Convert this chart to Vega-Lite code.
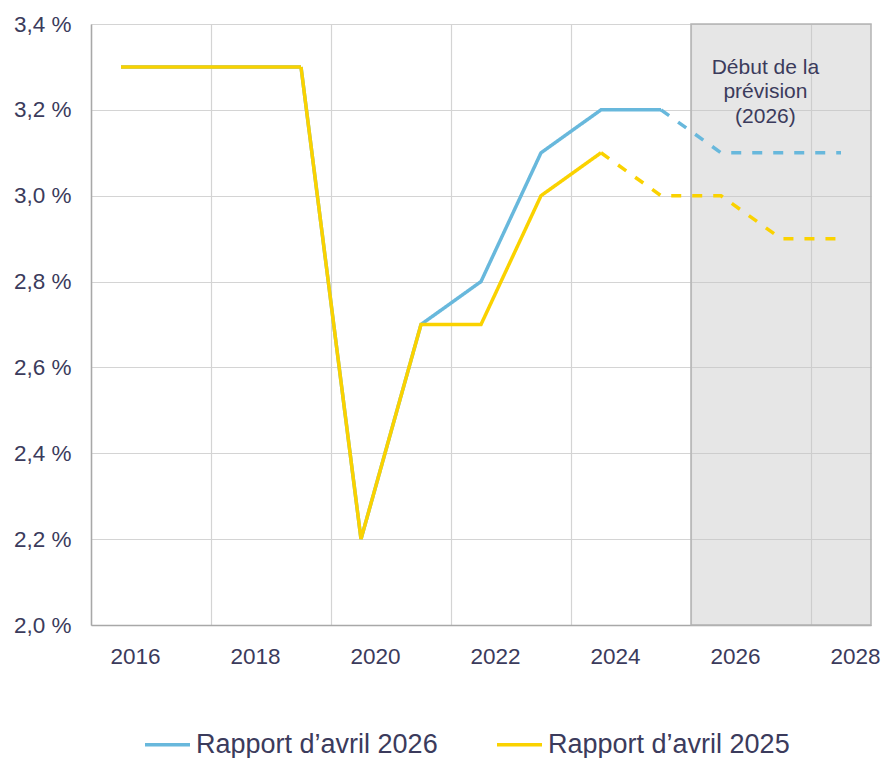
{
  "$schema": "https://vega.github.io/schema/vega-lite/v6.json",
  "width": 780,
  "height": 601,
  "autosize": {"type": "none"},
  "padding": {"left": 91, "top": 24, "right": 11, "bottom": 133},
  "background": "white",
  "config": {
    "view": {"stroke": null},
    "font": "Liberation Sans",
    "axis": {"labelFont": "Liberation Sans", "labelColor": "#3b3b5c", "labelFontSize": 22.5}
  },
  "layer": [
    {
      "data": {"values": [{"start": 2025.5, "end": 2028.5, "low": 2.0, "high": 3.4}]},
      "mark": {"type": "rect", "fill": "#c4c4c4", "fillOpacity": 0.42, "stroke": "#b4b4b4", "strokeWidth": 1.5},
      "encoding": {
        "x": {"field": "start", "type": "quantitative"},
        "x2": {"field": "end"},
        "y": {"field": "low", "type": "quantitative"},
        "y2": {"field": "high"}
      }
    },
    {
      "data": {
        "values": [
          {"year": 2016, "value": 3.3, "serie": "Rapport d’avril 2026", "part": "solid"},
          {"year": 2017, "value": 3.3, "serie": "Rapport d’avril 2026", "part": "solid"},
          {"year": 2018, "value": 3.3, "serie": "Rapport d’avril 2026", "part": "solid"},
          {"year": 2019, "value": 3.3, "serie": "Rapport d’avril 2026", "part": "solid"},
          {"year": 2020, "value": 2.2, "serie": "Rapport d’avril 2026", "part": "solid"},
          {"year": 2021, "value": 2.7, "serie": "Rapport d’avril 2026", "part": "solid"},
          {"year": 2022, "value": 2.8, "serie": "Rapport d’avril 2026", "part": "solid"},
          {"year": 2023, "value": 3.1, "serie": "Rapport d’avril 2026", "part": "solid"},
          {"year": 2024, "value": 3.2, "serie": "Rapport d’avril 2026", "part": "solid"},
          {"year": 2025, "value": 3.2, "serie": "Rapport d’avril 2026", "part": "solid"},
          {"year": 2025, "value": 3.2, "serie": "Rapport d’avril 2026", "part": "dash"},
          {"year": 2026, "value": 3.1, "serie": "Rapport d’avril 2026", "part": "dash"},
          {"year": 2027, "value": 3.1, "serie": "Rapport d’avril 2026", "part": "dash"},
          {"year": 2028, "value": 3.1, "serie": "Rapport d’avril 2026", "part": "dash"}
        ]
      },
      "mark": {"type": "line", "strokeWidth": 3.5},
      "encoding": {
        "x": {
          "field": "year", "type": "quantitative",
          "scale": {"domain": [2015.5, 2028.5], "nice": false, "zero": false},
          "axis": {
            "title": null,
            "values": [2015.5, 2017.5, 2019.5, 2021.5, 2023.5, 2025.5, 2027.5],
            "labelExpr": "format(datum.value + 0.5, 'd')",
            "labelOffset": 44,
            "labelFlush": false,
            "labelOverlap": false,
            "labelPadding": 20,
            "ticks": false,
            "grid": true,
            "gridColor": "#d4d4d4",
            "gridWidth": 1.2,
            "domainColor": "#a8a8a8",
            "domainWidth": 1.5
          }
        },
        "y": {
          "field": "value", "type": "quantitative",
          "scale": {"domain": [2.0, 3.4], "nice": false, "zero": false},
          "axis": {
            "title": null,
            "values": [2.0, 2.2, 2.4, 2.6, 2.8, 3.0, 3.2, 3.4],
            "labelExpr": "replace(format(datum.value, '.1f'), '.', ',') + ' %'",
            "labelPadding": 20,
            "labelFlush": false,
            "labelOverlap": false,
            "ticks": false,
            "grid": true,
            "gridColor": "#d4d4d4",
            "gridWidth": 1.2,
            "domainColor": "#a8a8a8",
            "domainWidth": 1.5
          }
        },
        "color": {
          "field": "serie", "type": "nominal",
          "scale": {"domain": ["Rapport d’avril 2026", "Rapport d’avril 2025"], "range": ["#68b8dc", "#fad200"]},
          "legend": {
            "title": null,
            "orient": "none",
            "legendX": 52,
            "legendY": 696,
            "direction": "horizontal",
            "symbolType": "stroke",
            "symbolStrokeWidth": 3.5,
            "symbolSize": 2025,
            "labelFontSize": 27,
            "labelFont": "Liberation Sans",
            "labelColor": "#3b3b5c",
            "labelLimit": 400,
            "columnPadding": 52
          }
        },
        "strokeDash": {
          "field": "part", "type": "nominal",
          "scale": {"domain": ["solid", "dash"], "range": [[1, 0], [10, 11]]},
          "legend": null
        }
      }
    },
    {
      "data": {
        "values": [
          {"year": 2016, "value": 3.3, "serie": "Rapport d’avril 2025", "part": "solid"},
          {"year": 2017, "value": 3.3, "serie": "Rapport d’avril 2025", "part": "solid"},
          {"year": 2018, "value": 3.3, "serie": "Rapport d’avril 2025", "part": "solid"},
          {"year": 2019, "value": 3.3, "serie": "Rapport d’avril 2025", "part": "solid"},
          {"year": 2020, "value": 2.2, "serie": "Rapport d’avril 2025", "part": "solid"},
          {"year": 2021, "value": 2.7, "serie": "Rapport d’avril 2025", "part": "solid"},
          {"year": 2022, "value": 2.7, "serie": "Rapport d’avril 2025", "part": "solid"},
          {"year": 2023, "value": 3.0, "serie": "Rapport d’avril 2025", "part": "solid"},
          {"year": 2024, "value": 3.1, "serie": "Rapport d’avril 2025", "part": "solid"},
          {"year": 2024, "value": 3.1, "serie": "Rapport d’avril 2025", "part": "dash"},
          {"year": 2025, "value": 3.0, "serie": "Rapport d’avril 2025", "part": "dash"},
          {"year": 2026, "value": 3.0, "serie": "Rapport d’avril 2025", "part": "dash"},
          {"year": 2027, "value": 2.9, "serie": "Rapport d’avril 2025", "part": "dash"},
          {"year": 2028, "value": 2.9, "serie": "Rapport d’avril 2025", "part": "dash"}
        ]
      },
      "mark": {"type": "line", "strokeWidth": 3.5},
      "encoding": {
        "x": {"field": "year", "type": "quantitative"},
        "y": {"field": "value", "type": "quantitative"},
        "color": {"field": "serie", "type": "nominal"},
        "strokeDash": {"field": "part", "type": "nominal", "legend": null}
      }
    },
    {
      "data": {"values": [{"x": 2026.74, "y": 3.3, "label": ["Début de la", "prévision", "(2026)"]}]},
      "mark": {"type": "text", "fontSize": 21, "lineHeight": 24.5, "fill": "#3b3b5c", "font": "Liberation Sans", "baseline": "middle", "align": "center", "dy": 1}, 
      "encoding": {
        "x": {"field": "x", "type": "quantitative"},
        "y": {"field": "y", "type": "quantitative"},
        "text": {"field": "label"}
      }
    }
  ]
}
